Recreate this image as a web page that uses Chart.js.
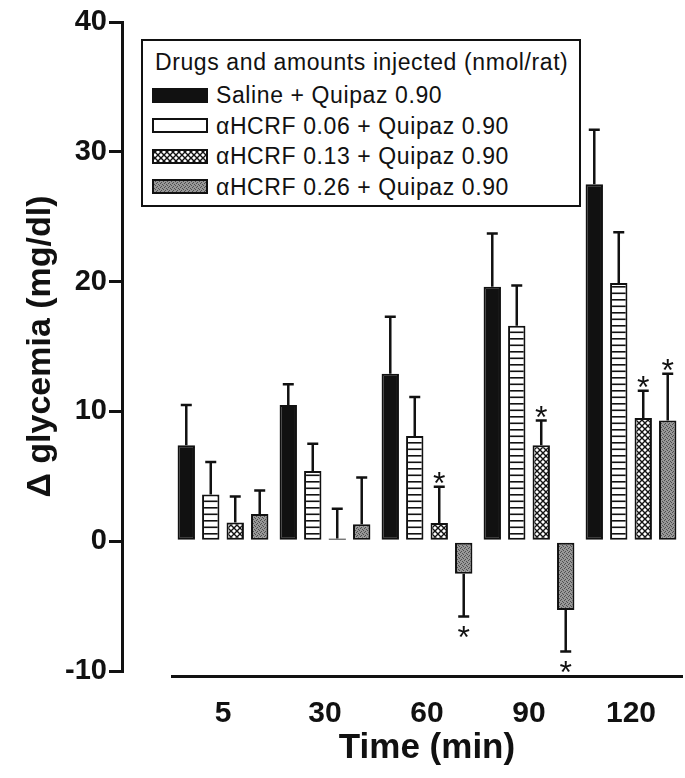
<!DOCTYPE html>
<html>
<head>
<meta charset="utf-8">
<script src="https://cdn.jsdelivr.net/npm/chart.js@4.4.1/dist/chart.umd.min.js"></script>
<style>
  body { margin: 0; background: #fff; }
  #wrap { position: relative; width: 685px; height: 778px; }
  #legend {
    position: absolute; left: 141px; top: 39px; width: 440px; height: 168px;
    box-sizing: border-box; border: 2.5px solid #111; background: #fff;
    font-family: 'Liberation Sans', Arial, Helvetica, sans-serif; color: #111;
  }
  #legend .title, #legend .item { position: absolute; font-size: 23px; letter-spacing: 0.6px; white-space: nowrap; line-height: 26px; }
  #legend canvas { position: absolute; }
</style>
</head>
<body>
<div id="wrap">
  <canvas id="chart" width="685" height="778"></canvas>
  <div id="legend"></div>
</div>
<script>
// ----- data -----
const times = ['5', '30', '60', '90', '120'];

const legendTitle = 'Drugs and amounts injected (nmol/rat)';
const seriesNames = [
  'Saline + Quipaz 0.90',
  'αHCRF 0.06 + Quipaz 0.90',
  'αHCRF 0.13 + Quipaz 0.90',
  'αHCRF 0.26 + Quipaz 0.90'
];

// mean change in glycemia (mg/dl)
const saline  = [7.4, 10.5, 12.9, 19.6, 27.5];
const hcrf006 = [3.6, 5.4, 8.1, 16.6, 19.9];
const hcrf013 = [1.45, 0.2, 1.4, 7.4, 9.5];
const hcrf026 = [2.1, 1.3, -2.5, -5.3, 9.3];

// SEM (one-sided error bars)
const salineErr  = [3.1, 1.6, 4.4, 4.1, 4.2];
const hcrf006Err = [2.5, 2.1, 3.0, 3.1, 3.9];
const hcrf013Err = [2.0, 2.3, 2.8, 1.9, 2.1];
const hcrf026Err = [1.8, 3.6, 3.3, 3.2, 3.6];

// significance markers (*)
const salineSig  = [false, false, false, false, false];
const hcrf006Sig = [false, false, false, false, false];
const hcrf013Sig = [false, false, true, true, true];
const hcrf026Sig = [false, false, true, true, true];

const FONT = "'Liberation Sans', Arial, Helvetica, sans-serif";
const INK = '#111';

// ----- fill patterns -----
function makePattern(kind) {
  const c = document.createElement('canvas');
  const g = c.getContext('2d');
  if (kind === 'stripes') {
    c.width = 8; c.height = 13;
    g.fillStyle = '#fff'; g.fillRect(0, 0, 8, 13);
    g.fillStyle = INK;
    g.fillRect(0, 0, 8, 1.6);
    g.fillRect(0, 6.5, 8, 1.6);
  } else if (kind === 'cross') {
    c.width = 6; c.height = 6;
    g.fillStyle = '#fff'; g.fillRect(0, 0, 6, 6);
    g.strokeStyle = INK; g.lineWidth = 1.4;
    g.beginPath();
    g.moveTo(-1, -1); g.lineTo(7, 7);
    g.moveTo(7, -1); g.lineTo(-1, 7);
    g.stroke();
  } else if (kind === 'gray') {
    c.width = 4; c.height = 4;
    g.fillStyle = '#979797'; g.fillRect(0, 0, 4, 4);
    g.fillStyle = '#4e4e4e';
    [[0, 0], [2, 1], [1, 3], [3, 2]].forEach(([x, y]) => g.fillRect(x, y, 1, 1));
  }
  return g.createPattern(c, 'repeat');
}

const fills = [INK, makePattern('stripes'), makePattern('cross'), makePattern('gray')];
const legendFills = [INK, '#fff', fills[2], fills[3]];

const values = [saline, hcrf006, hcrf013, hcrf026];
const errors = [salineErr, hcrf006Err, hcrf013Err, hcrf026Err];
const stars = [salineSig, hcrf006Sig, hcrf013Sig, hcrf026Sig];

// ----- error bars + asterisks -----
const errorBars = {
  id: 'errorBars',
  afterDatasetsDraw(chart) {
    const { ctx } = chart;
    const y = chart.scales.y;
    ctx.save();
    ctx.strokeStyle = INK;
    ctx.fillStyle = INK;
    ctx.lineWidth = 2.5;
    ctx.font = '32px ' + FONT;
    ctx.textAlign = 'center';
    ctx.textBaseline = 'alphabetic';
    chart.data.datasets.forEach((ds, i) => {
      chart.getDatasetMeta(i).data.forEach((bar, j) => {
        const v = ds.data[j];
        const e = errors[i][j];
        const end = y.getPixelForValue(v >= 0 ? v + e : v - e);
        ctx.beginPath();
        ctx.moveTo(bar.x, bar.y);
        ctx.lineTo(bar.x, end);
        ctx.moveTo(bar.x - 5.5, end);
        ctx.lineTo(bar.x + 5.5, end);
        ctx.stroke();
        if (stars[i][j]) {
          const cy = v >= 0 ? end - 11 : end + 13;
          ctx.fillText('*', bar.x, cy + 18.5);
        }
      });
    });
    ctx.restore();
  }
};

new Chart(document.getElementById('chart'), {
  type: 'bar',
  data: {
    labels: times,
    datasets: seriesNames.map((name, i) => ({
      label: name,
      data: values[i],
      backgroundColor: fills[i],
      borderColor: INK,
      borderWidth: 2,
      borderSkipped: false,
      categoryPercentage: 0.96,
      barPercentage: 0.71
    }))
  },
  options: {
    responsive: false,
    animation: false,
    layout: { padding: { top: 22, right: 3, left: 0, bottom: 0 } },
    plugins: { legend: { display: false }, tooltip: { enabled: false } },
    scales: {
      x: {
        type: 'category',
        position: 'bottom',
        weight: 1,
        offset: true,
        grid: { display: false },
        border: { display: true, color: INK, width: 3 },
        ticks: { color: INK, padding: 12, font: { family: FONT, size: 30, weight: 'bold' } },
        title: {
          display: true, text: 'Time (min)', color: INK,
          font: { family: FONT, size: 35, weight: 'bold' },
          padding: { top: 0, bottom: 9 }
        },
        afterFit: s => { s.height = 102; }
      },
      gapX: {
        type: 'category',
        position: 'bottom',
        weight: 0,
        grid: { display: false },
        border: { display: false },
        ticks: { display: false },
        afterFit: s => { s.height = 5; }
      },
      y: {
        type: 'linear',
        position: 'left',
        weight: 1,
        min: -10,
        max: 40,
        ticks: { stepSize: 10, color: INK, padding: 2, font: { family: FONT, size: 29, weight: 'bold' } },
        grid: { display: true, drawOnChartArea: false, drawTicks: true, tickLength: 13, color: INK, lineWidth: 3 },
        border: { display: true, color: INK, width: 3 },
        title: {
          display: true, text: 'Δ glycemia (mg/dl)', color: INK,
          font: { family: FONT, size: 34, weight: 'bold' },
          padding: { top: 20, bottom: 0 }
        },
        afterFit: s => { s.width = 122; }
      },
      gapY: {
        type: 'linear',
        position: 'left',
        weight: 0,
        grid: { display: false },
        border: { display: false },
        ticks: { display: false },
        afterFit: s => { s.width = 50; }
      }
    }
  },
  plugins: [errorBars]
});

// ----- boxed legend -----
const legend = document.getElementById('legend');
const title = document.createElement('div');
title.className = 'title';
title.textContent = legendTitle;
title.style.left = '12px';
title.style.top = '8px';
legend.appendChild(title);

seriesNames.forEach((name, i) => {
  const rowCenter = 54 + i * 30.5;
  const sw = document.createElement('canvas');
  sw.width = 56; sw.height = 15;
  sw.style.left = '9px';
  sw.style.top = (rowCenter - 7.5) + 'px';
  const g = sw.getContext('2d');
  g.fillStyle = legendFills[i];
  g.fillRect(0, 0, 56, 15);
  g.strokeStyle = INK; g.lineWidth = 2;
  g.strokeRect(1, 1, 54, 13);
  legend.appendChild(sw);

  const t = document.createElement('div');
  t.className = 'item';
  t.textContent = name;
  t.style.left = '73px';
  t.style.top = (rowCenter - 13) + 'px';
  legend.appendChild(t);
});
</script>
</body>
</html>
